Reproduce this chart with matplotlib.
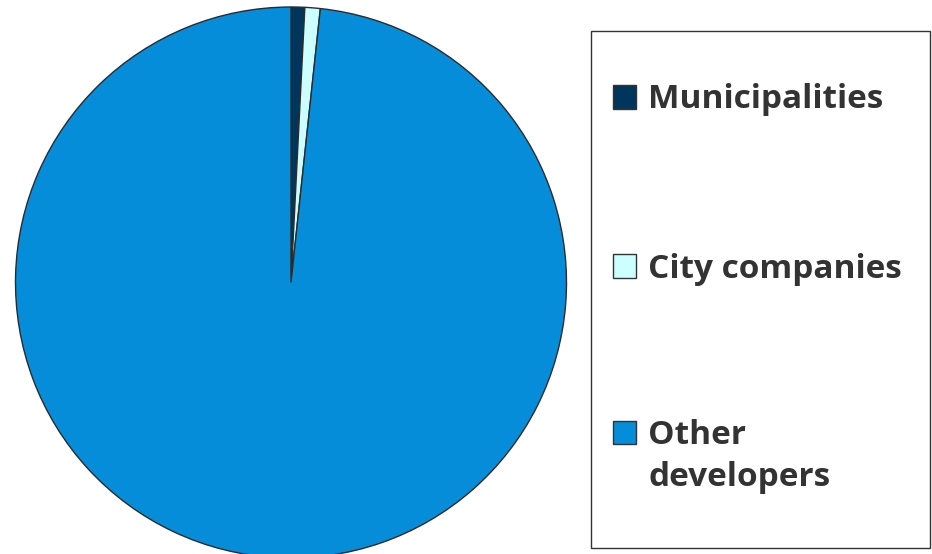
import matplotlib.pyplot as plt
from matplotlib.patches import Rectangle

# shares of the housing built (percent)
categories = ["Municipalities", "City companies", "Other developers"]
legend_labels = ["Municipalities", "City companies", "Other\ndevelopers"]
shares = [0.8, 0.9, 98.3]
colors = ["#00365c", "#ccffff", "#058dd9"]

W, H = 932, 554
fig = plt.figure(figsize=(W / 100, H / 100), dpi=100)

# pie axes placed in pixels: centre (291, 282.5), radius 275.5
cx, cy, r = 291, 282.5, 275.5
ax = fig.add_axes([(cx - r) / W, (H - cy - r) / H, 2 * r / W, 2 * r / H])
wedges, _ = ax.pie(
    shares,
    colors=colors,
    startangle=90,
    counterclock=False,
    radius=1,
    wedgeprops=dict(edgecolor="#2b2b2b", linewidth=1.0),
)
ax.set_xlim(-1, 1)
ax.set_ylim(-1, 1)

# legend drawn by hand so the entries sit where they do in the original
font = dict(family="Open Sans", weight="bold", size=24, color="#333333")
fig.patches.append(
    Rectangle((591 / W, 1 - 548 / H), (930 - 591) / W, (548 - 31) / H,
              transform=fig.transFigure, facecolor="white",
              edgecolor="#333333", linewidth=1.0)
)
rows = [97, 266, 432]
line_step = 42
for wedge, label, y in zip(wedges, legend_labels, rows):
    fig.patches.append(
        Rectangle((613 / W, 1 - (y + 11.5) / H), 23 / W, 23 / H,
                  transform=fig.transFigure, facecolor=wedge.get_facecolor(),
                  edgecolor="#333333", linewidth=1.0)
    )
    # baseline of each text line lines up with the bottom of the swatch
    for k, line in enumerate(label.split("\n")):
        base = y + 11.5 + k * line_step
        fig.text(648 / W, 1 - base / H, line, va="baseline", ha="left", **font)

fig.savefig("out.png", dpi=100)
